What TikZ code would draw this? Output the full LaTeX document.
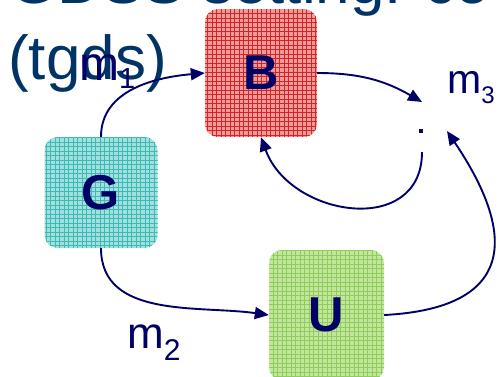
\documentclass[tikz,border=0pt]{standalone}
\usepackage{fontspec}
\setmainfont{Liberation Sans}
\usetikzlibrary{arrows.meta}
\definecolor{navy}{HTML}{000066}
\definecolor{titleblue}{HTML}{003366}
\definecolor{redbase}{HTML}{EC9A9A}
\definecolor{redline}{HTML}{D02626}
\definecolor{tealbase}{HTML}{A2E0DE}
\definecolor{tealline}{HTML}{3DB9B6}
\definecolor{greenbase}{HTML}{C3E69C}
\definecolor{greenline}{HTML}{8ECC5E}
\tikzset{
  gridbox/.style n args={4}{draw=none, fill=#1, rounded corners=13pt,
    minimum width=#3, minimum height=#4, inner sep=0pt,
    text=navy, font=\fontsize{49}{49}\selectfont\bfseries,
    path picture={\draw[#2, line width=0.45pt, step=4.5pt]
      (path picture bounding box.south west) grid (path picture bounding box.north east);}},
  flow/.style={navy, line width=1.9pt, -{Triangle[length=14pt,width=12pt]}},
  lbl/.style={inner sep=0pt, anchor=base west, text=navy},
  ttl/.style={inner sep=0pt, anchor=base west, text=titleblue, font=\fontsize{62}{62}\selectfont}
}
\begin{document}
\begin{tikzpicture}[x=1pt,y=1pt]
\useasboundingbox (0,0) rectangle (502,-376);
\clip (0,0) rectangle (502,-376);
% boxes
\node[gridbox={redbase}{redline}{112pt}{128pt}] (B) at (261,-73) {B};
\node[gridbox={tealbase}{tealline}{113pt}{111pt}] (G) at (101,-192.5) {G};
\node[gridbox={greenbase}{greenline}{115pt}{130pt}] (U) at (326.5,-315) {U};
% title
\node[ttl] (t1) at (9,-3) {GDSS setting: co};
\node[ttl] (t2) at (8,-79) {(tgds)};
% dot and free ends
\node[fill=navy, inner sep=0pt, minimum size=3.5pt] (dot) at (421,-131) {};
\coordinate (m3in) at (422,-102);
\coordinate (dotout) at (422,-152);
\coordinate (dotin) at (447,-131);
% connectors
\draw[flow] (G.north) to[out=90,in=185] (B.west);
\draw[flow] (B.east) to[out=0,in=150] (m3in);
\draw[flow] (dotout) to[out=-90,in=-70,looseness=1.35] (B.south);
\draw[flow] (U.east) to[out=3,in=-56,looseness=1.7] (dotin);
\draw[flow] (G.south) to[out=-90,in=172] (U.west);
% labels
\node[lbl, font=\fontsize{48}{48}\selectfont] (m1) at (79,-80) {m\raisebox{-8pt}{\fontsize{29}{29}\selectfont 1}};
\node[lbl, font=\fontsize{44}{44}\selectfont] (m2) at (127,-348) {m\raisebox{-12pt}{\fontsize{30}{30}\selectfont 2}};
\node[lbl, font=\fontsize{41}{41}\selectfont] (m3) at (447,-93) {m\raisebox{-10pt}{\fontsize{24}{24}\selectfont 3}};
\end{tikzpicture}
\end{document}
